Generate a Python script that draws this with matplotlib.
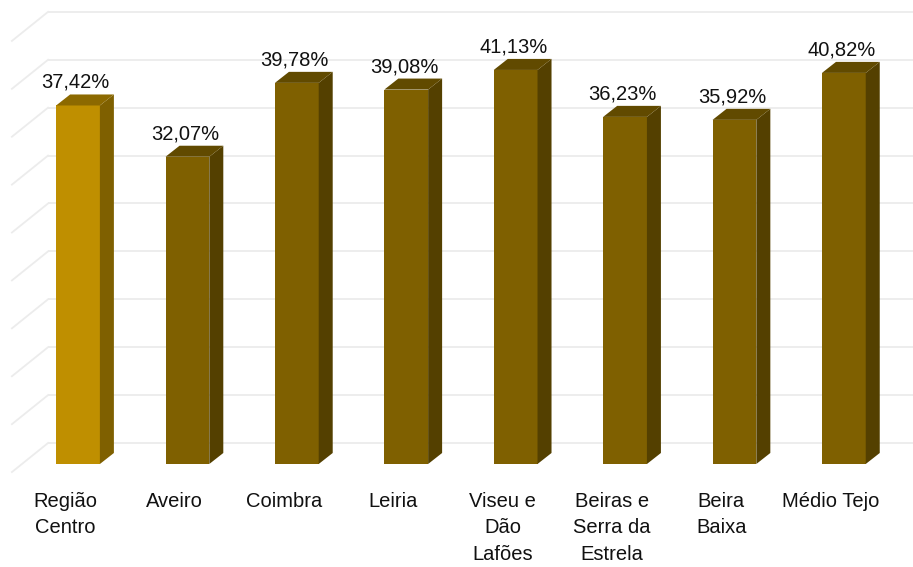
import numpy as np
import matplotlib.pyplot as plt
from matplotlib.patches import Polygon

plt.rcParams['font.family'] = ['Liberation Sans', 'DejaVu Sans']

# data
categories = ['Região\nCentro', 'Aveiro', 'Coimbra', 'Leiria', 'Viseu e\nDão\nLafões',
              'Beiras e\nSerra da\nEstrela', 'Beira\nBaixa', 'Médio Tejo']
values = [37.42, 32.07, 39.78, 39.08, 41.13, 36.23, 35.92, 40.82]
labels = ['37,42%', '32,07%', '39,78%', '39,08%', '41,13%', '36,23%', '35,92%', '40,82%']
grid_values = np.arange(0, 50, 5)

# colours (front, top, side)
highlight = ('#BF8F00', '#8C6900', '#7F6000')
normal = ('#7F6000', '#614A00', '#544000')

# pseudo 3d geometry, in data units
width = 0.40
side_dx, side_dy = 0.128, 1.15
wall_dy = 2.19          # back wall sits this far "above" the bar fronts
floor_dx, floor_dy = 0.33, 3.03
wall_x0 = -0.274

fig = plt.figure(figsize=(9.13, 5.67), dpi=100)
ax = fig.add_axes([0, 0, 1, 1])
ax.set_xlim(-0.713, 7.632)
ax.set_ylim(-10.75, 48.43)
ax.axis('off')

# back wall gridlines + floor slants
for g in grid_values:
    y = g + wall_dy
    ax.plot([wall_x0, 8], [y, y], color='#ececec', lw=1.3, zorder=1, solid_capstyle='butt')
    ax.plot([wall_x0 - floor_dx, wall_x0], [y - floor_dy, y], color='#ececec', lw=1.3, zorder=1)

for i, (v, lab, cat) in enumerate(zip(values, labels, categories)):
    front, top, side = highlight if i == 0 else normal
    x0, x1 = i - width / 2, i + width / 2
    ax.add_patch(Polygon([(x0, 0), (x1, 0), (x1, v), (x0, v)], closed=True,
                         facecolor=front, edgecolor='none', zorder=3))
    ax.add_patch(Polygon([(x1, 0), (x1 + side_dx, side_dy), (x1 + side_dx, v + side_dy), (x1, v)],
                         closed=True, facecolor=side, edgecolor='none', zorder=3))
    ax.add_patch(Polygon([(x0, v), (x1, v), (x1 + side_dx, v + side_dy), (x0 + side_dx, v + side_dy)],
                         closed=True, facecolor=top, edgecolor='none', zorder=3))
    ax.text(i - 0.02, v + 1.83, lab, ha='center', va='baseline', fontsize=14.5, color='#111111', zorder=4)
    ax.text(i - 0.12, -2.9, cat, ha='center', va='top', fontsize=14.5, color='#111111',
            linespacing=1.5, zorder=4)

fig.savefig('out.png', dpi=100)
